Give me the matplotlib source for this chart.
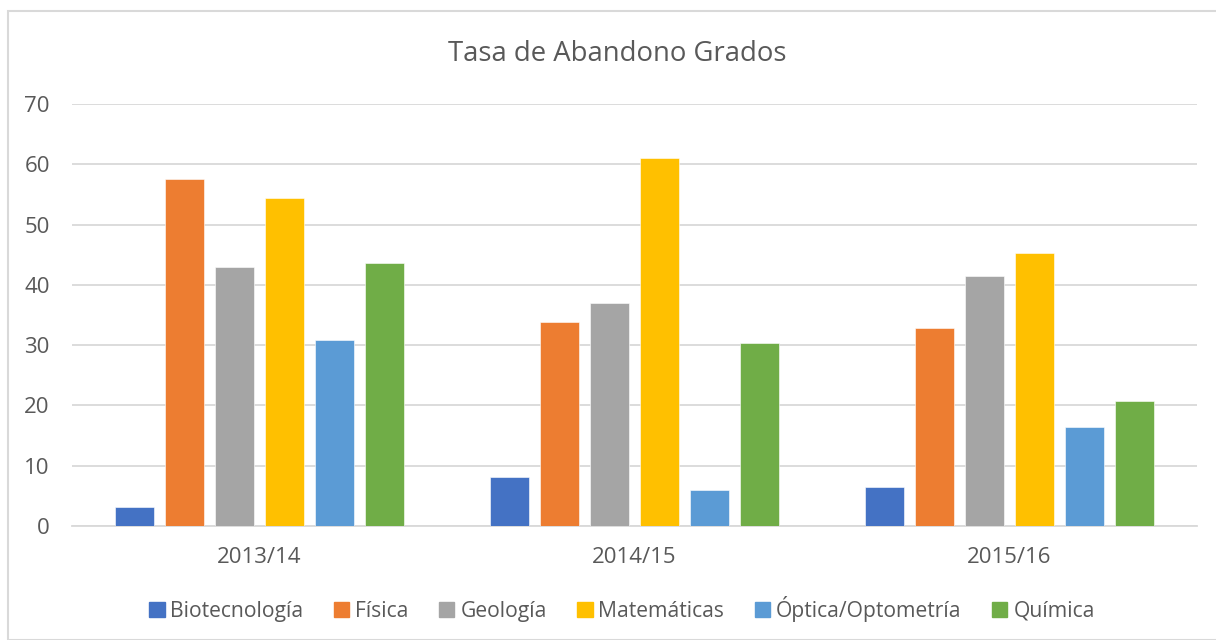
import matplotlib.pyplot as plt
import matplotlib.patches as mpatches
import numpy as np

plt.rcParams['font.family'] = ['Open Sans', 'DejaVu Sans']

# data
years = ['2013/14', '2014/15', '2015/16']
grados = ['Biotecnología', 'Física', 'Geología', 'Matemáticas', 'Óptica/Optometría', 'Química']
biotecnologia = [3.1, 8.2, 6.4]
fisica = [57.6, 33.9, 32.9]
geologia = [42.9, 37.0, 41.4]
matematicas = [54.4, 61.1, 45.3]
optica = [30.9, 6.0, 16.4]
quimica = [43.7, 30.4, 20.8]

series = [biotecnologia, fisica, geologia, matematicas, optica, quimica]
colors = ['#4472C4', '#ED7D31', '#A5A5A5', '#FFC000', '#5B9BD5', '#70AD47']
text_col = '#595959'

fig = plt.figure(figsize=(12.16, 6.4), dpi=100)
ax = fig.add_axes([72/1216, 1 - 526/640, 1125/1216, 422/640])

# outer chart border
fig.patches.append(mpatches.Rectangle((8/1216, 0), 1.0, 1 - 11/640, transform=fig.transFigure,
                                      fill=False, edgecolor='#d9d9d9', linewidth=1.5))

x = np.arange(len(years))
stride = 50 / 375.0
width = 39 / 375.0
for i, (vals, c, name) in enumerate(zip(series, colors, grados)):
    ax.bar(x + (i - 2.5) * stride, vals, width, color=c, label=name, zorder=3,
           edgecolor='white', linewidth=0.4)

ax.set_xlim(-0.5, 2.5)
ax.set_ylim(0, 70)
ax.set_yticks(range(0, 71, 10))
ax.set_xticks(x)
ax.set_xticklabels(years)
ax.grid(axis='y', color='#d9d9d9', linewidth=1.3, zorder=0)
for s in ['top', 'right', 'left']:
    ax.spines[s].set_visible(False)
ax.spines['bottom'].set_color('#d9d9d9')
ax.spines['bottom'].set_linewidth(1.3)
ax.tick_params(axis='both', length=0, labelsize=16, colors=text_col)
ax.tick_params(axis='x', pad=15)
ax.tick_params(axis='y', pad=16)

fig.text(617/1216, 1 - 54/640, 'Tasa de Abandono Grados', ha='center', va='center',
         fontsize=19.8, color=text_col)

handles = [mpatches.Patch(color=c) for c in colors]
fig.legend(handles, grados, loc='center', bbox_to_anchor=(622/1216, 1 - 609/640), ncol=6,
           frameon=False, fontsize=15.2, labelcolor=text_col, handlelength=0.72,
           handleheight=0.72, handletextpad=0.28, columnspacing=1.45)

fig.savefig('out.png', dpi=100)
